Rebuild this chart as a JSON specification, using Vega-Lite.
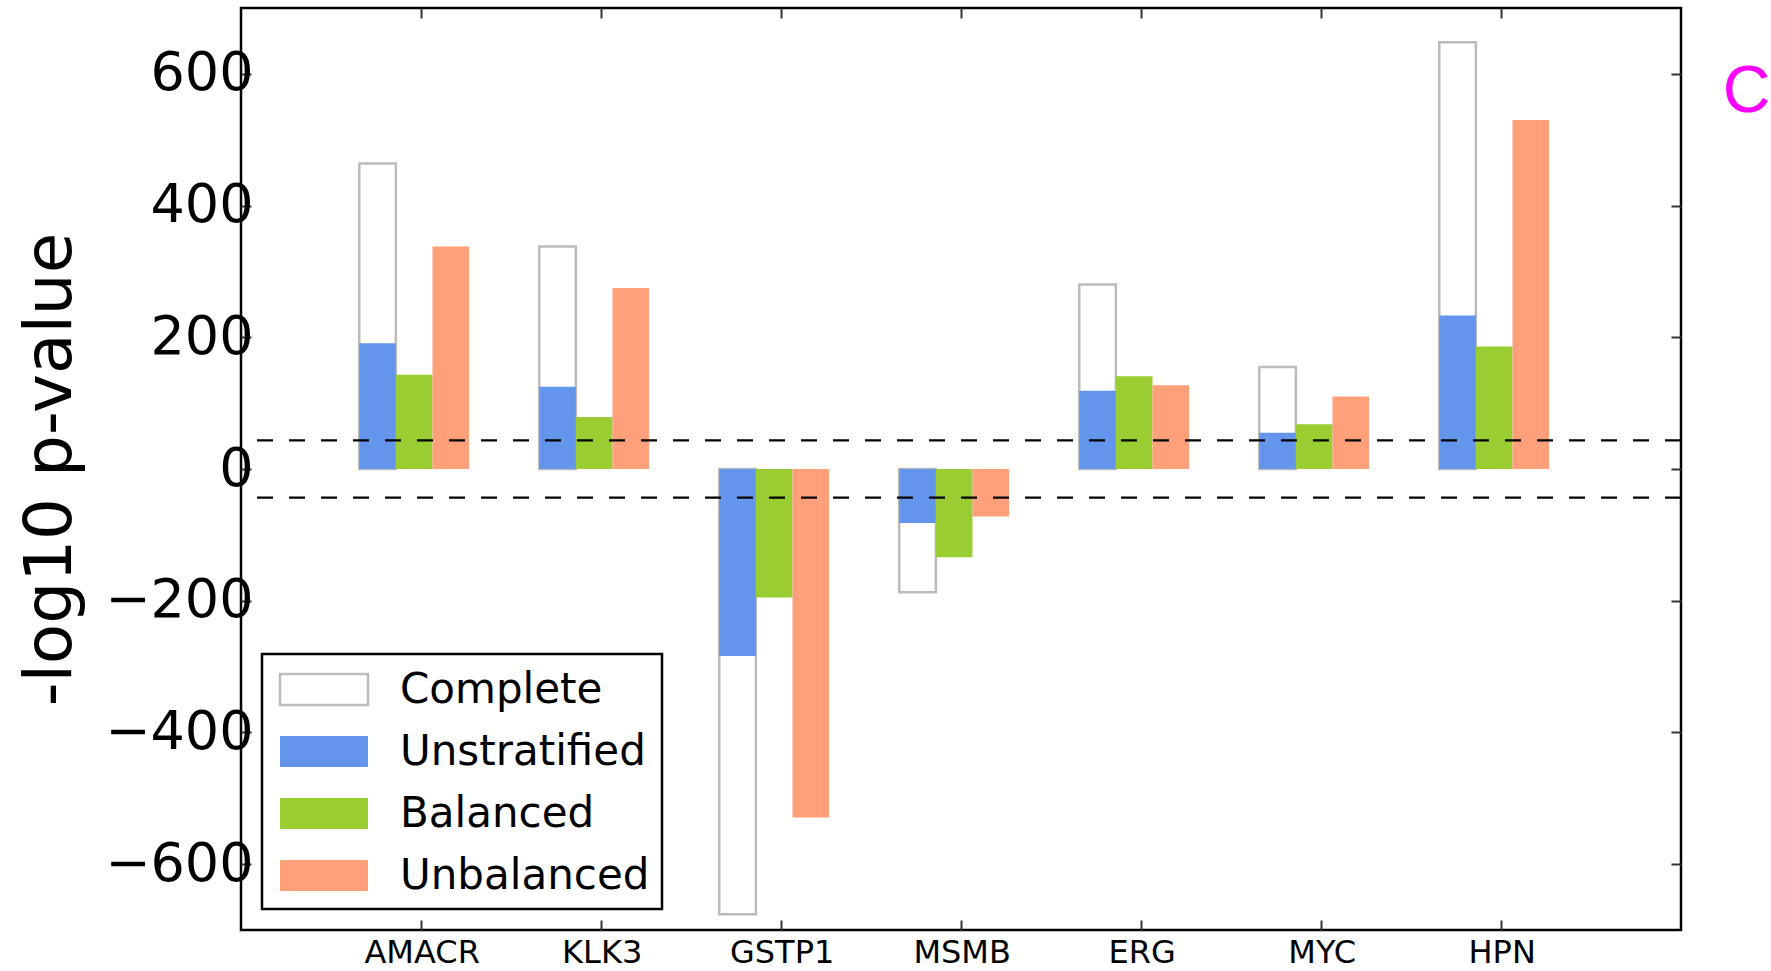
{
  "$schema": "https://vega.github.io/schema/vega-lite/v6.json",
  "width": 1440,
  "height": 922,
  "autosize": {"type": "none"},
  "padding": {"left": 241, "top": 8, "right": 90, "bottom": 41},
  "background": "white",
  "title": {
    "text": "C",
    "orient": "right",
    "anchor": "start",
    "angle": 0,
    "align": "left",
    "baseline": "alphabetic",
    "offset": 40,
    "dx": -47,
    "dy": 105,
    "fontSize": 66,
    "font": "Liberation Sans",
    "fontWeight": "normal",
    "color": "#ff00ff"
  },
  "datasets": {
    "bars": [
      {"gene": "AMACR", "series": "Complete", "value": 464},
      {"gene": "AMACR", "series": "Unstratified", "value": 191},
      {"gene": "AMACR", "series": "Balanced", "value": 143},
      {"gene": "AMACR", "series": "Unbalanced", "value": 338},
      {"gene": "KLK3", "series": "Complete", "value": 338},
      {"gene": "KLK3", "series": "Unstratified", "value": 125},
      {"gene": "KLK3", "series": "Balanced", "value": 79},
      {"gene": "KLK3", "series": "Unbalanced", "value": 275},
      {"gene": "GSTP1", "series": "Complete", "value": -676},
      {"gene": "GSTP1", "series": "Unstratified", "value": -284},
      {"gene": "GSTP1", "series": "Balanced", "value": -195},
      {"gene": "GSTP1", "series": "Unbalanced", "value": -529},
      {"gene": "MSMB", "series": "Complete", "value": -187},
      {"gene": "MSMB", "series": "Unstratified", "value": -82},
      {"gene": "MSMB", "series": "Balanced", "value": -134},
      {"gene": "MSMB", "series": "Unbalanced", "value": -72},
      {"gene": "ERG", "series": "Complete", "value": 280},
      {"gene": "ERG", "series": "Unstratified", "value": 119},
      {"gene": "ERG", "series": "Balanced", "value": 141},
      {"gene": "ERG", "series": "Unbalanced", "value": 127},
      {"gene": "MYC", "series": "Complete", "value": 155},
      {"gene": "MYC", "series": "Unstratified", "value": 55},
      {"gene": "MYC", "series": "Balanced", "value": 68},
      {"gene": "MYC", "series": "Unbalanced", "value": 110},
      {"gene": "HPN", "series": "Complete", "value": 648},
      {"gene": "HPN", "series": "Unstratified", "value": 233},
      {"gene": "HPN", "series": "Balanced", "value": 186},
      {"gene": "HPN", "series": "Unbalanced", "value": 530}
    ],
    "thresholds": [{"v": 43.5}, {"v": -43.5}]
  },
  "layer": [
    {
      "data": {"name": "bars"},
      "transform": [{"filter": "datum.series === 'Complete'"}],
      "mark": {"type": "bar", "fill": "white", "stroke": "#bbbbbb", "strokeWidth": 2.5},
      "encoding": {
        "x": {
          "field": "gene", "type": "nominal", "sort": null,
          "scale": {"type": "band", "domain": ["AMACR", "KLK3", "GSTP1", "MSMB", "ERG", "MYC", "HPN"], "paddingInner": 0.39, "paddingOuter": 0.695, "align": 0.4727},
          "axis": {"orient": "bottom", "title": null, "labelAngle": 0, "labelFontSize": 32, "labelPadding": 17, "labelOffset": 8, "tickSize": -10, "bandPosition": 0.5623, "domain": false, "grid": false}
        },
        "xOffset": {"datum": "Unstratified", "scale": {"domain": ["Unstratified", "Balanced", "Unbalanced"], "paddingInner": 0, "paddingOuter": 0}},
        "y": {
          "field": "value", "type": "quantitative",
          "scale": {"domain": [-700, 700], "nice": false},
          "axis": {"orient": "left", "title": "-log10 p-value", "values": [-600, -400, -200, 0, 200, 400, 600], "labelFontSize": 54, "labelPadding": -2, "tickSize": -10, "domain": false, "grid": false, "titleFontSize": 66, "titlePadding": 20}
        }
      }
    },
    {
      "data": {"name": "bars"},
      "transform": [{"filter": "datum.series !== 'Complete'"}],
      "mark": {"type": "bar"},
      "encoding": {
        "x": {
          "field": "gene", "type": "nominal", "sort": null,
          "scale": {"type": "band", "domain": ["AMACR", "KLK3", "GSTP1", "MSMB", "ERG", "MYC", "HPN"], "paddingInner": 0.39, "paddingOuter": 0.695, "align": 0.4727},
          "axis": {"orient": "top", "title": null, "labels": false, "tickSize": -10, "bandPosition": 0.5623, "domain": false, "grid": false}
        },
        "xOffset": {"field": "series", "type": "nominal", "scale": {"domain": ["Unstratified", "Balanced", "Unbalanced"], "paddingInner": 0, "paddingOuter": 0}},
        "y": {
          "field": "value", "type": "quantitative",
          "scale": {"domain": [-700, 700], "nice": false},
          "axis": {"orient": "right", "title": null, "labels": false, "values": [-600, -400, -200, 0, 200, 400, 600], "tickSize": -10, "domain": false, "grid": false}
        },
        "color": {
          "field": "series", "type": "nominal",
          "scale": {"domain": ["Complete", "Unstratified", "Balanced", "Unbalanced"], "range": ["#ffffff", "#6495ED", "#9ACD32", "#FFA07A"]},
          "legend": {
            "title": null,
            "orient": "bottom-left",
            "offset": 21,
            "padding": 12,
            "strokeColor": "black",
            "fillColor": "white",
            "symbolType": "M-2,-0.705H2V0.705H-2Z",
            "symbolSize": 1936,
            "symbolStrokeWidth": 2.5,
            "symbolOffset": 26.5,
            "symbolOpacity": 1,
            "labelFontSize": 42,
            "labelFont": "DejaVu Sans",
            "labelColor": "black",
            "labelOffset": 52.5,
            "labelLimit": 500,
            "rowPadding": 17,
            "encode": {
              "legend": {
                "update": {"strokeWidth": {"value": 2.5}}
              },
              "symbols": {
                "update": {
                  "stroke": [{"test": "datum.value === 'Complete'", "value": "#bbbbbb"}, {"value": "transparent"}]
                }
              }
            }
          }
        }
      }
    },
    {
      "mark": {"type": "rule", "color": "#999999", "strokeWidth": 4.5},
      "encoding": {
        "y": {"datum": 0, "type": "quantitative", "scale": {"domain": [-700, 700], "nice": false}, "axis": null}
      }
    },
    {
      "data": {"name": "thresholds"},
      "mark": {"type": "rule", "color": "black", "strokeWidth": 2.3, "strokeDash": [16, 16]},
      "encoding": {
        "y": {"field": "v", "type": "quantitative", "scale": {"domain": [-700, 700], "nice": false}, "axis": null}
      }
    }
  ],
  "resolve": {"axis": {"x": "independent", "y": "independent"}},
  "config": {
    "view": {"stroke": "black", "strokeWidth": 2.5},
    "axis": {
      "labelFont": "DejaVu Sans",
      "titleFont": "DejaVu Sans",
      "labelColor": "black",
      "titleColor": "black",
      "titleFontWeight": "normal",
      "tickColor": "#333333",
      "tickWidth": 2
    }
  }
}
